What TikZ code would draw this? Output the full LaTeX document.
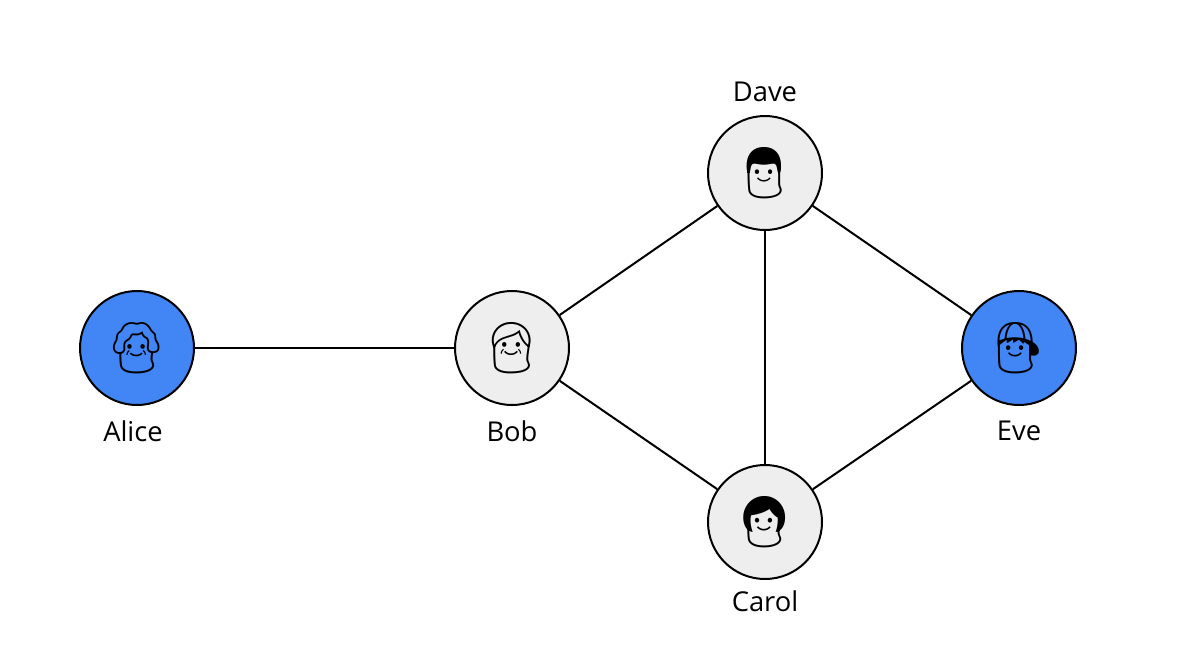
\documentclass[tikz,border=0pt]{standalone}
\usepackage{fontspec}
\setmainfont{Open Sans}
\newfontfamily\emojifont{Noto Emoji}
\definecolor{personblue}{RGB}{66,133,244}
\definecolor{persongray}{RGB}{238,238,238}
\tikzset{every picture/.style={line width=1.5pt}}
\tikzset{
  person/.style={circle, draw=black, line width=1.5pt, minimum size=85.5pt, inner sep=0pt, font=\emojifont\fontsize{38}{38}\selectfont},
  hidden/.style={person, fill=personblue},
  known/.style={person, fill=persongray},
  personname/.style={font=\fontsize{20.5}{24}\selectfont}
}
\begin{document}
\begin{tikzpicture}[x=0.75pt,y=0.75pt,yscale=-1,xscale=1]
\useasboundingbox (0,0) rectangle (1190,647);

% People
\node [hidden] (alice) at (137,348) {👵};
\node [known] (bob) at (512,348) {👴};
\node [known] (dave) at (765,173) {👨};
\node [known] (carol) at (765,522) {👩};
\node [hidden] (eve) at (1019,348) {👦};

% Names
\node [personname] (alicelabel) at (133,431) {Alice};
\node [personname] (boblabel) at (512,431) {Bob};
\node [personname] (davelabel) at (765,92) {Dave};
\node [personname] (carollabel) at (765,601) {Carol};
\node [personname] (evelabel) at (1019,431) {Eve};

% Links
\draw (alice) -- (bob);
\draw (bob) -- (dave);
\draw (bob) -- (carol);
\draw (dave) -- (carol);
\draw (dave) -- (eve);
\draw (carol) -- (eve);

\end{tikzpicture}
\end{document}
